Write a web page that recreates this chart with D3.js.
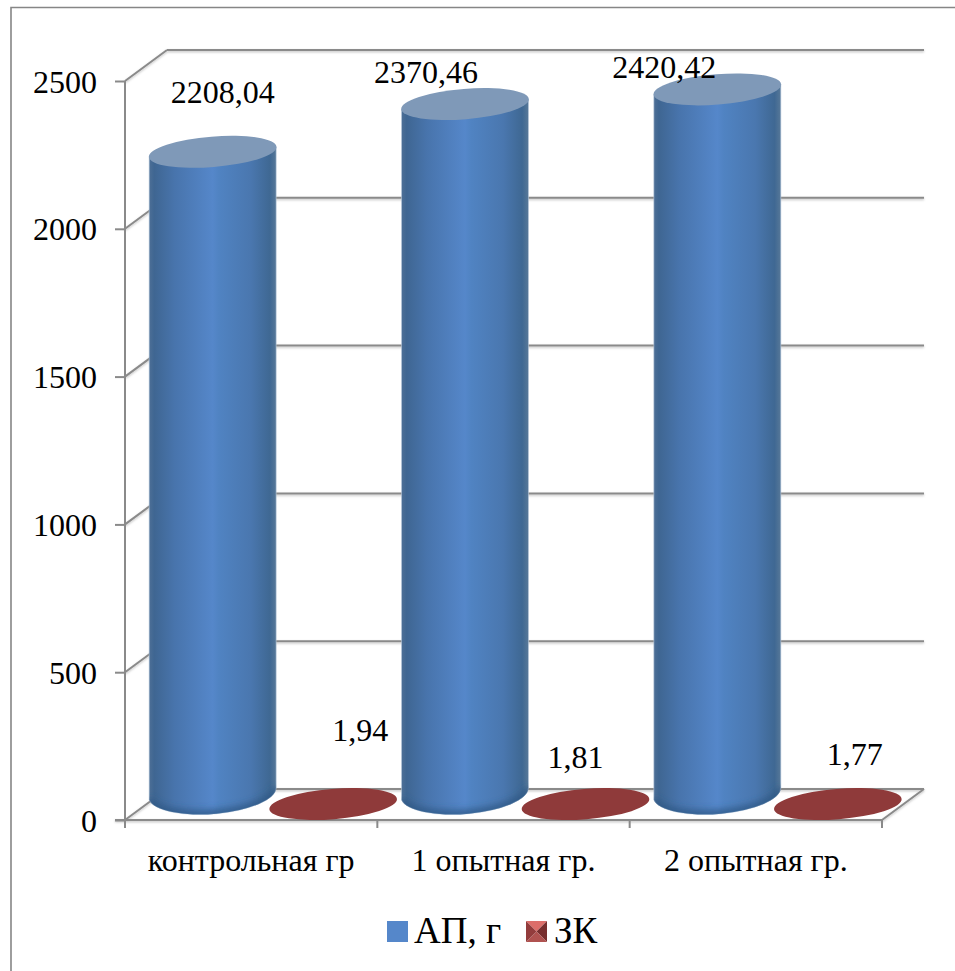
<!DOCTYPE html>
<html>
<head>
<meta charset="utf-8">
<script src="https://cdn.jsdelivr.net/npm/d3@7"></script>
<style>
  html, body { margin: 0; padding: 0; background: #fff; }
  svg { display: block; }
  text { font-family: "Liberation Serif", serif; fill: #000; }
</style>
</head>
<body>
<svg id="chart" width="955" height="971"></svg>
<script>
const categories = ["контрольная гр", "1 опытная гр.", "2 опытная гр."];
const apValues = [2208.04, 2370.46, 2420.42];
const zkValues = [1.94, 1.81, 1.77];
const apLabels = ["2208,04", "2370,46", "2420,42"];
const zkLabels = ["1,94", "1,81", "1,77"];
const yTicks = [0, 500, 1000, 1500, 2000, 2500];
const seriesNames = ["АП, г", "ЗК"];

// Hand-placed data label offsets relative to the top of each cylinder
const apLabelOffsets = [[10, -49], [-39, -21], [-53, -11]];
const zkLabelOffsets = [[27, -63], [-10, -36], [17, -39]];

const svg = d3.select("#chart");
const GRID = "#8a8a8a";
const depth = { x: 42, y: -31 };

// Front plane scales; the back wall is the same plane shifted by depth
const x = d3.scaleBand().domain(categories).range([125, 882]);
const y = d3.scaleLinear().domain([0, 2500]).range([820, 81]);
// Cylinders stand midway into the box, so their vertical scale is a little shorter
const yBar = d3.scaleLinear().domain([0, 2500]).range([801, 66]);
const rx = 64, ry = 15.2, tilt = -4.6, tangent = 5, halfW = 63.5;
// The lower end of a cylinder curves more deeply than its flat top
const baseRy = 21.5, baseLift = 7;

const defs = svg.append("defs");
const body = defs.append("linearGradient").attr("id", "apBody");
[[0, "#4d6f96"], [0.04, "#3f6692"], [0.2, "#4874ac"], [0.5, "#5587ca"], [0.55, "#5083c2"],
 [0.8, "#4a77af"], [0.95, "#3f6893"], [1, "#577898"]].forEach(([o, c]) =>
  body.append("stop").attr("offset", o).attr("stop-color", c));
defs.append("filter").attr("id", "soft").attr("x", "-20%").attr("y", "-40%")
  .attr("width", "140%").attr("height", "180%")
  .append("feGaussianBlur").attr("stdDeviation", 3.5);
defs.append("filter").attr("id", "lineShadow")
  .attr("x", "-5%").attr("y", "-5%").attr("width", "110%").attr("height", "110%")
  .append("feDropShadow").attr("dx", 0).attr("dy", 1.2).attr("stdDeviation", 0.8)
  .attr("flood-color", "#000").attr("flood-opacity", 0.25);

// Chart frame
svg.append("path").attr("d", "M11,971V7.5H955").attr("fill", "none")
  .attr("stroke", "#868686").attr("stroke-width", 1.6);

// Back wall, floor and side wall rules
const grid = svg.append("g").attr("fill", "none").attr("stroke", GRID)
  .attr("stroke-width", 2).attr("filter", "url(#lineShadow)");
grid.selectAll(".rule").data(yTicks).join("line").attr("class", "rule")
  .attr("x1", 125 + depth.x).attr("x2", 882 + depth.x)
  .attr("y1", d => y(d) + depth.y).attr("y2", d => y(d) + depth.y);
grid.selectAll(".diag").data(yTicks).join("line").attr("class", "diag")
  .attr("x1", 125).attr("x2", 125 + depth.x)
  .attr("y1", d => y(d)).attr("y2", d => y(d) + depth.y);
grid.append("line").attr("x1", 882).attr("x2", 882 + depth.x)
  .attr("y1", y(0)).attr("y2", y(0) + depth.y);
grid.append("line").attr("x1", 115).attr("x2", 882).attr("y1", y(0)).attr("y2", y(0));

// Vertical axis with outward ticks
const yAxis = svg.append("g").attr("transform", "translate(125,0)")
  .call(d3.axisLeft(y).tickValues(yTicks).tickSize(10).tickPadding(18).tickFormat(d3.format("d")));
yAxis.selectAll("path, line").attr("stroke", GRID).attr("stroke-width", 2);
yAxis.select(".domain").attr("d", `M0,${y(2500)}V${y(0) + 8}`);
yAxis.selectAll("text").attr("font-size", 32).attr("dy", 11)
  .style("font-family", '"Liberation Serif", serif');

// Category axis: labels from the band scale, boundary ticks between the bands
const xAxis = svg.append("g").attr("transform", `translate(0,${y(0)})`)
  .call(d3.axisBottom(x).tickSize(0).tickPadding(28));
xAxis.select(".domain").remove();
xAxis.selectAll("text").attr("font-size", 32).attr("dy", "0.71em")
  .style("font-family", '"Liberation Serif", serif').attr("fill", "#000");
const boundaries = categories.map(c => x(c)).concat(x.range()[1]);
svg.append("g").selectAll("line").data(boundaries).join("line")
  .attr("x1", d => d).attr("x2", d => d).attr("y1", y(0)).attr("y2", y(0) + 8)
  .attr("stroke", GRID).attr("stroke-width", 2);

const center = c => x(c) + x.bandwidth() / 2;

function baseArc(cx, baseY) {
  const b = baseY - baseLift;
  return `M${cx - halfW},${b + tangent + 1}A${rx},${baseRy} ${tilt} 0 0 ${cx + halfW},${b - tangent - 1}`;
}

function cylinderPath(cx, topY, baseY) {
  const b = baseY - baseLift;
  return `M${cx - halfW},${topY + tangent}V${b + tangent + 1}` +
    `A${rx},${baseRy} ${tilt} 0 0 ${cx + halfW},${b - tangent - 1}V${topY - tangent}` +
    `A${rx},${ry} ${tilt} 0 1 ${cx - halfW},${topY + tangent}Z`;
}

// АП series: tall shaded cylinders
const ap = svg.append("g");
categories.forEach((c, i) => {
  const cx = center(c) - 38.5, topY = yBar(apValues[i]), baseY = yBar(0);
  const path = cylinderPath(cx, topY, baseY);
  const g = ap.append("g");
  defs.append("clipPath").attr("id", `clip${i}`).append("path").attr("d", path);
  g.append("path").attr("d", path).attr("fill", "url(#apBody)")
    .attr("stroke", "#b9c9dc").attr("stroke-width", 0.6);
  // Darker rim along the bottom curve
  g.append("g").attr("clip-path", `url(#clip${i})`).append("path")
    .attr("d", baseArc(cx, baseY))
    .attr("fill", "none").attr("stroke", "#2f5785").attr("stroke-opacity", 0.9)
    .attr("stroke-width", 8).attr("filter", "url(#soft)");
  g.append("ellipse").attr("rx", rx).attr("ry", ry)
    .attr("transform", `translate(${cx},${topY}) rotate(${tilt})`)
    .attr("fill", "#7f99b8");
  g.append("text").attr("x", cx + apLabelOffsets[i][0]).attr("y", topY + apLabelOffsets[i][1])
    .attr("text-anchor", "middle").attr("font-size", 32).text(apLabels[i]);
});

// ЗК series: values so small on this scale that only a flat disc remains
const zk = svg.append("g");
categories.forEach((c, i) => {
  const cx = center(c) + 82, topY = yBar(zkValues[i]) + 3.6;
  zk.append("ellipse").attr("rx", rx).attr("ry", ry)
    .attr("transform", `translate(${cx},${topY}) rotate(${tilt})`)
    .attr("fill", "#8f3a3a");
  zk.append("text").attr("x", cx + zkLabelOffsets[i][0]).attr("y", topY + zkLabelOffsets[i][1])
    .attr("text-anchor", "middle").attr("font-size", 32).text(zkLabels[i]);
});

// Legend
const legend = svg.append("g");
const keyY = 921, keySize = 21;
legend.append("rect").attr("x", 387).attr("y", keyY).attr("width", keySize).attr("height", keySize)
  .attr("fill", "#5587ca");
legend.append("text").attr("x", 414).attr("y", 943).attr("font-size", 37).text(seriesNames[0]);

const bx = 526, mid = keySize / 2;
const facets = [
  { c: "#dc6e6a", pts: [[0, 0], [keySize, 0], [mid, mid]] },
  { c: "#772e2e", pts: [[keySize, 0], [keySize, keySize], [mid, mid]] },
  { c: "#b05250", pts: [[keySize, keySize], [0, keySize], [mid, mid]] },
  { c: "#933c3c", pts: [[0, keySize], [0, 0], [mid, mid]] }
];
legend.append("g").attr("transform", `translate(${bx},${keyY})`)
  .selectAll("path").data(facets).join("path")
  .attr("d", f => d3.line()(f.pts) + "Z").attr("fill", f => f.c);
legend.append("text").attr("x", 554).attr("y", 943).attr("font-size", 37).text(seriesNames[1]);
</script>
</body>
</html>
